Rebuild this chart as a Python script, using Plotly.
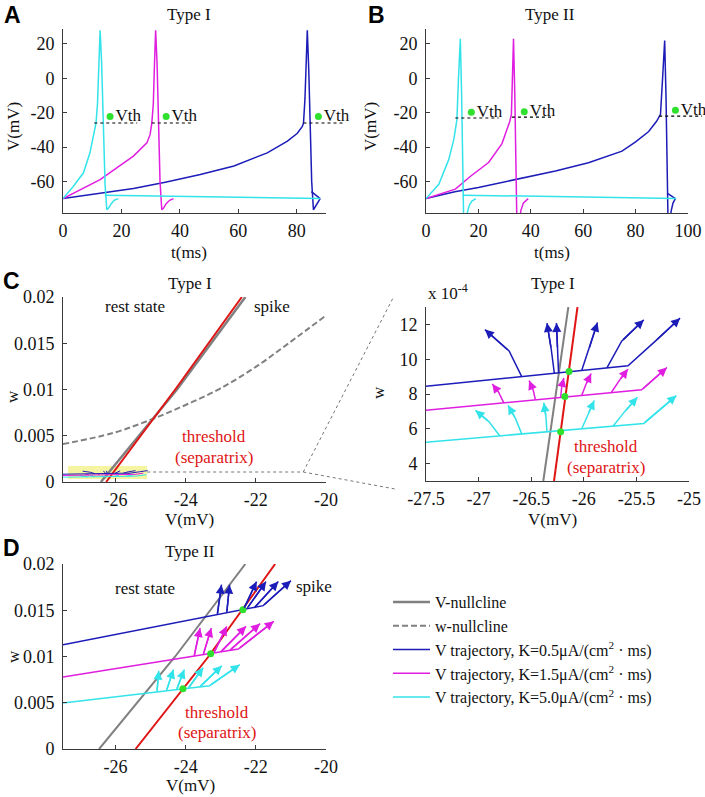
import plotly.graph_objects as go

SERIF = "Liberation Serif"
SANS = "Liberation Sans"

BLUE = "#1c1cb8"
MAGENTA = "#e01ee0"
CYAN = "#33e3ea"
GRAY = "#808080"
RED = "#e01515"
GREEN = "#2fe02f"
AXC = "#3a3a3a"

# ---------------- Panel A (Type I): V(t) ----------------
A_BLUE_T = [0, 10, 24.1, 35, 47, 58.5, 69.9, 76.8, 80.2, 81.9, 82.3, 82.8, 83.2, 83.6, 84.1, 84.6, 85.1, 85.7, 86.3, 87.2, 88, None, 85.0, 88]
A_BLUE_V = [-70, -67.5, -64.2, -60.5, -56, -51, -43.4, -36.6, -32, -28, -26, -12, 10, 28, 5, -30, -60, -76.5, -75, -72, -70, None, -66, -70]
A_MAG_T = [0, 6, 12.7, 18.5, 24.1, 28.7, 29.8, 30.4, 30.9, 31.3, 31.7, 32.2, 32.7, 33.2, 33.8, 34.4, 35.3, 36.5, 37.8]
A_MAG_V = [-70, -65, -59, -52, -45.3, -37.6, -32.8, -26, -15, 8, 28, 8, -30, -60, -76.5, -75.5, -73, -71, -70]
A_CYAN_T = [0, 3.5, 7.0, 9.2, 10.7, 11.3, 11.8, 12.3, 12.7, 13.2, 13.8, 14.4, 15.0, 15.6, 16.5, 17.5, 18.9, None, 14.3, 88]
A_CYAN_V = [-70, -63, -55, -43.5, -31, -26, -15, 10, 28, 10, -25, -62, -76.5, -75.5, -73, -71, -70, None, -68, -70]
A_VTH_X0 = [10.7, 30.4, 82.3]
A_VTH_X1 = [25.4, 44.6, 96.6]
A_VTH_LEVEL = [-26, -26, -26]
A_DOT_T = [16.1, 35.3, 87.4]
A_DOT_V = [-22.3, -22.3, -22.3]

# ---------------- Panel B (Type II): V(t) ----------------
B_BLUE_T = [0, 11, 20, 40, 49.4, 62, 74.8, 80, 85, 88, 89.5, 90.3, 91.1, 91.6, 92.0, 92.4, None, 92.9, 93.6, 94.3, 95.2, None, 92.2, 95.2]
B_BLUE_V = [-70, -66, -63.5, -57, -54, -49.2, -42.4, -37, -31, -25, -21, 0, 22, -10, -60, -85, None, -85, -77, -72.5, -70, None, -67, -70]
B_MAG_T = [0, 11.2, 17, 23.9, 29, 31, 32, 32.6, 33.0, 33.4, 33.9, 34.3, 34.7, None, 35.6, 36.2, 37.2, 39.0]
B_MAG_V = [-70, -64.5, -57, -49, -38, -30, -25, -21, 0, 23, -10, -60, -85, None, -85, -77, -72.5, -70]
B_CYAN_T = [0, 4.9, 8.7, 10.6, 11.3, 11.8, 12.4, 13.1, 13.6, 14.0, 14.4, None, 15.2, 15.8, 16.5, 17.5, 19, None, 14.0, 95.5]
B_CYAN_V = [-70, -61.7, -47.2, -35.7, -29, -24, 0, 23, -10, -60, -85, None, -84, -78, -74, -71.5, -70, None, -68, -70]
B_VTH_X0 = [11.2, 32.8, 89.0]
B_VTH_X1 = [27.7, 48.1, 105.3]
B_VTH_LEVEL = [-23.1, -22.6, -22.0]
B_DOT_T = [17.3, 37.5, 95.2]
B_DOT_V = [-19.8, -19.5, -18.6]

# ---------------- Panel C right (Type I, w in 1e-4) ----------------
CR_VNULL_V = [-26.385, -26.147]
CR_VNULL_W = [3, 13]
CR_THR_V = [-26.283, -26.06]
CR_THR_W = [3, 13]
CR_BLUE_BASE_V = [-27.5, -25.58, -25.32, -25.085]
CR_BLUE_BASE_W = [8.44, 9.62, 11.04, 12.36]
CR_BLUE_BR_V = [[-26.59, -26.71, -26.94], [-26.28, -26.31, -26.35], [-26.24, -26.25, -26.26], [-26.02, -25.95, -25.87], [-25.78, -25.64, -25.43]]
CR_BLUE_BR_W = [[9.00, 10.47, 11.70], [9.19, 10.6, 12.08], [9.22, 10.6, 12.08], [9.35, 10.6, 12.11], [9.50, 11.04, 12.26]]
CR_MAG_BASE_V = [-27.5, -25.45, -25.21]
CR_MAG_BASE_W = [7.06, 8.24, 9.52]
CR_MAG_BR_V = [[-26.76, -26.81, -26.87], [-26.46, -26.48, -26.52], [-26.22, -26.21, -26.19], [-26.02, -25.98, -25.93], [-25.74, -25.66, -25.58]]
CR_MAG_BR_W = [[7.49, 8.10, 8.58], [7.66, 8.2, 8.77], [7.80, 8.4, 8.92], [7.91, 8.55, 9.18], [8.07, 8.8, 9.43]]
CR_CYAN_BASE_V = [-27.5, -25.43, -25.12]
CR_CYAN_BASE_W = [5.23, 6.31, 7.91]
CR_CYAN_BR_V = [[-26.80, -26.90, -27.03], [-26.59, -26.65, -26.72], [-26.35, -26.36, -26.38], [-26.02, -25.96, -25.90], [-25.72, -25.61, -25.49]]
CR_CYAN_BR_W = [[5.60, 6.4, 7.06], [5.71, 6.6, 7.35], [5.83, 6.7, 7.50], [6.00, 6.85, 7.63], [6.16, 7.0, 7.82]]
CR_DOT_V = [-26.14, -26.18, -26.22]
CR_DOT_W = [9.30, 7.86, 5.83]
CR_SCALE = 1e-4

# ---------------- Panel C left (Type I) ----------------
CL_VNULL_V = [-26.42, -24.25, -22.3]
CL_VNULL_W = [0, 0.01, 0.02]
CL_THR_V = [-26.27, -24.3, -22.4]
CL_THR_W = [0, 0.01, 0.02]
CL_WNULL_V = [-27.5, -26.07, -25.02, -24.02, -23.02, -21.98, -21.03, -20.0]
CL_WNULL_W = [0.0041, 0.0053, 0.0067, 0.0083, 0.0101, 0.0125, 0.0151, 0.0180]
CL_BOX_V = [-27.36, -25.10]
CL_BOX_W = [0.00032, 0.00173]
CL_LINK_V = [-25.10, -20.65]
CL_LINK_W = 0.00108

# ---------------- Panel D (Type II) ----------------
D_VNULL_V = [-26.47, -24.3, -22.3]
D_VNULL_W = [0, 0.01, 0.02]
D_THR_V = [-25.43, -23.35, -21.45]
D_THR_W = [0, 0.01, 0.02]
D_BLUE_BASE_V = [-27.5, -21.79, -21.0]
D_BLUE_BASE_W = [0.01128, 0.0155, 0.0182]
D_BLUE_BR_V = [[-23.10, -22.98], [-22.83, -22.75], [-22.35, -21.98], [-22.25, -21.71], [-22.05, -21.36]]
D_BLUE_BR_W = [[0.01452, 0.01776], [0.01473, 0.01776], [0.0151, 0.0181], [0.0152, 0.0181], [0.01525, 0.0181]]
D_MAG_BASE_V = [-27.5, -22.5, -21.49]
D_MAG_BASE_W = [0.00778, 0.0108, 0.0138]
D_MAG_BR_V = [[-23.76, -23.59], [-23.50, -23.27], [-23.2, -22.83], [-23.0, -22.28], [-22.75, -21.88]]
D_MAG_BR_W = [[0.01004, 0.01308], [0.0102, 0.01308], [0.01038, 0.01326], [0.0105, 0.01326], [0.01065, 0.01355]]
D_CYAN_BASE_V = [-27.5, -23.32, -22.46]
D_CYAN_BASE_W = [0.00497, 0.00684, 0.00911]
D_CYAN_BR_V = [[-24.82, -24.77], [-24.55, -24.35], [-24.26, -24.04], [-23.93, -23.5], [-23.6, -22.97]]
D_CYAN_BR_W = [[0.00617, 0.00846], [0.00629, 0.0086], [0.00642, 0.0086], [0.00657, 0.0088], [0.00672, 0.009]]
D_DOT_V = [-24.08, -23.29, -22.37]
D_DOT_W = [0.0065, 0.0103, 0.01506]

LEGEND_NAMES = ["V-nullcline", "w-nullcline",
                "V trajectory, K=0.5μA/(cm<sup>2</sup> · ms)",
                "V trajectory, K=1.5μA/(cm<sup>2</sup> · ms)",
                "V trajectory, K=5.0μA/(cm<sup>2</sup> · ms)"]

# ---------------- layout geometry (pixels) ----------------
FW, FH = 705, 797
BOX_A = (63, 326, 29, 213)
BOX_B = (426, 688, 29, 213)
BOX_CL = (63, 326, 297, 482)
BOX_CR = (426, 689, 307, 481)
BOX_D = (63, 326, 564, 749)
RA_X, RA_Y = [0, 90], [-78.4, 28.7]
RB_X, RB_Y = [0, 100], [-78.4, 28.7]
RCL_X, RCL_Y = [-27.5, -20], [0, 0.02]
RCR_X, RCR_Y = [-27.5, -25], [3, 13]
RD_X, RD_Y = [-27.5, -20], [0, 0.02]


def dx(box):
    return [box[0] / FW, box[1] / FW]


def dy(box):
    return [1 - box[3] / FH, 1 - box[2] / FH]


def to_paper(box, xr, yr, x, y):
    px = box[0] + (x - xr[0]) / (xr[1] - xr[0]) * (box[1] - box[0])
    py = box[3] - (y - yr[0]) / (yr[1] - yr[0]) * (box[3] - box[2])
    return px / FW, 1 - py / FH


def ext_range(box, xr, px_end):
    return [xr[0], xr[0] + (xr[1] - xr[0]) * (px_end - box[0]) / (box[1] - box[0])]


fig = go.Figure()


def line(x, y, ax, color, width=1.5, dash=None, name=None, legend=False, rank=None, shape="linear"):
    fig.add_trace(go.Scatter(x=x, y=y, mode="lines", xaxis="x" + ax, yaxis="y" + ax,
                             line=dict(color=color, width=width, dash=dash, shape=shape),
                             name=name, showlegend=legend, legendrank=rank if rank else 1000,
                             hoverinfo="skip", connectgaps=False))


def flatten(list_v, list_w, scale=1.0):
    xs, ys = [], []
    for bv, bw in zip(list_v, list_w):
        xs += list(bv) + [None]
        ys += [w * scale for w in bw] + [None]
    return xs, ys


annotations = []


def arrows(list_v, list_w, ax, color, scale=1.0):
    for bv, bw in zip(list_v, list_w):
        annotations.append(dict(x=bv[-1], y=bw[-1] * scale, ax=bv[-2], ay=bw[-2] * scale,
                                xref="x" + ax, yref="y" + ax, axref="x" + ax, ayref="y" + ax,
                                showarrow=True, arrowhead=2, arrowsize=1.2, arrowwidth=1.5,
                                arrowcolor=color, text=""))


# ---- A ----
line(A_BLUE_T, A_BLUE_V, "", BLUE)
line(A_MAG_T, A_MAG_V, "", MAGENTA)
line(A_CYAN_T, A_CYAN_V, "", CYAN)
# ---- B ----
line(B_BLUE_T, B_BLUE_V, "2", BLUE)
line(B_MAG_T, B_MAG_V, "2", MAGENTA)
line(B_CYAN_T, B_CYAN_V, "2", CYAN)


def vth(x0s, x1s, levels, dts, dvs, ax):
    xs, ys = [], []
    for a, b, l in zip(x0s, x1s, levels):
        xs += [a, b, None]
        ys += [l, l, None]
    line(xs, ys, ax, "#000000", width=1.2, dash="dot")
    fig.add_trace(go.Scatter(x=dts, y=dvs, mode="markers+text", xaxis="x" + ax, yaxis="y" + ax,
                             marker=dict(color=GREEN, size=7), text=["Vth"] * len(dts),
                             textposition="middle right", cliponaxis=False,
                             textfont=dict(family=SERIF, size=17, color="#111"),
                             showlegend=False, hoverinfo="skip"))


vth(A_VTH_X0, A_VTH_X1, A_VTH_LEVEL, A_DOT_T, A_DOT_V, "6")
vth(B_VTH_X0, B_VTH_X1, B_VTH_LEVEL, B_DOT_T, B_DOT_V, "7")

# ---- C left ----
line(CL_WNULL_V, CL_WNULL_W, "3", GRAY, width=2, dash="6px,3px", name=LEGEND_NAMES[1], legend=True, rank=2, shape="spline")
line(CL_VNULL_V, CL_VNULL_W, "3", GRAY, width=2.5, name=LEGEND_NAMES[0], legend=True, rank=1)
line(CL_THR_V, CL_THR_W, "3", RED, width=2)
for bv, bw, brv, brw, col in [(CR_CYAN_BASE_V, CR_CYAN_BASE_W, CR_CYAN_BR_V, CR_CYAN_BR_W, CYAN),
                              (CR_MAG_BASE_V, CR_MAG_BASE_W, CR_MAG_BR_V, CR_MAG_BR_W, MAGENTA),
                              (CR_BLUE_BASE_V, CR_BLUE_BASE_W, CR_BLUE_BR_V, CR_BLUE_BR_W, BLUE)]:
    line(bv, [w * CR_SCALE for w in bw], "3", col, width=1)
    xs, ys = flatten(brv, brw, CR_SCALE)
    line(xs, ys, "3", col, width=1)

# ---- C right ----
line(CR_VNULL_V, CR_VNULL_W, "4", GRAY, width=2)
for bv, bw, brv, brw, col in [(CR_BLUE_BASE_V, CR_BLUE_BASE_W, CR_BLUE_BR_V, CR_BLUE_BR_W, BLUE),
                              (CR_MAG_BASE_V, CR_MAG_BASE_W, CR_MAG_BR_V, CR_MAG_BR_W, MAGENTA),
                              (CR_CYAN_BASE_V, CR_CYAN_BASE_W, CR_CYAN_BR_V, CR_CYAN_BR_W, CYAN)]:
    line(bv, bw, "4", col, width=1.5)
    xs, ys = flatten(brv, brw)
    line(xs, ys, "4", col, width=1.5)
    arrows(brv, brw, "4", col)
    arrows([bv[-2:]], [bw[-2:]], "4", col)
line(CR_THR_V, CR_THR_W, "4", RED, width=2)
fig.add_trace(go.Scatter(x=CR_DOT_V, y=CR_DOT_W, mode="markers", xaxis="x4", yaxis="y4",
                         marker=dict(color=GREEN, size=7), showlegend=False, hoverinfo="skip"))

# ---- D ----
line(D_VNULL_V, D_VNULL_W, "5", GRAY, width=2)
line(D_THR_V, D_THR_W, "5", RED, width=2)
for bv, bw, brv, brw, col, nm, rk in [(D_BLUE_BASE_V, D_BLUE_BASE_W, D_BLUE_BR_V, D_BLUE_BR_W, BLUE, LEGEND_NAMES[2], 3),
                                      (D_MAG_BASE_V, D_MAG_BASE_W, D_MAG_BR_V, D_MAG_BR_W, MAGENTA, LEGEND_NAMES[3], 4),
                                      (D_CYAN_BASE_V, D_CYAN_BASE_W, D_CYAN_BR_V, D_CYAN_BR_W, CYAN, LEGEND_NAMES[4], 5)]:
    line(bv, bw, "5", col, width=1.5, name=nm, legend=True, rank=rk)
    xs, ys = flatten(brv, brw)
    line(xs, ys, "5", col, width=1.5)
    arrows(brv, brw, "5", col)
    arrows([bv[-2:]], [bw[-2:]], "5", col)
fig.add_trace(go.Scatter(x=D_DOT_V, y=D_DOT_W, mode="markers", xaxis="x5", yaxis="y5",
                         marker=dict(color=GREEN, size=7), showlegend=False, hoverinfo="skip"))


# ---------------- axes ----------------
def axis(box, rng, horiz, tickvals=None, ticktext=None):
    d = dict(domain=dx(box) if horiz else dy(box), range=rng, showline=True, linecolor=AXC,
             linewidth=1, ticks="inside", ticklen=4, tickcolor=AXC, showgrid=False,
             zeroline=False, fixedrange=True, ticklabelstandoff=1 if horiz else 4, automargin=False,
             tickfont=dict(family=SERIF, size=18, color="#111"))
    if tickvals is not None:
        d["tickmode"] = "array"
        d["tickvals"] = tickvals
        d["ticktext"] = ticktext if ticktext else [str(v) for v in tickvals]
    return d


W_TICKS = [0, 0.005, 0.01, 0.015, 0.02]
W_TEXT = ["0", "0.005", "0.01", "0.015", "0.02"]

A_EXT = 360
B_EXT = 705
layout_axes = dict(
    xaxis=dict(axis(BOX_A, RA_X, True, [0, 20, 40, 60, 80]), anchor="y"),
    yaxis=dict(axis(BOX_A, RA_Y, False, [-60, -40, -20, 0, 20]), anchor="x"),
    xaxis2=dict(axis(BOX_B, RB_X, True, [0, 20, 40, 60, 80, 100]), anchor="y2"),
    yaxis2=dict(axis(BOX_B, RB_Y, False, [-60, -40, -20, 0, 20]), anchor="x2"),
    xaxis3=dict(axis(BOX_CL, RCL_X, True, [-26, -24, -22, -20]), anchor="y3"),
    yaxis3=dict(axis(BOX_CL, RCL_Y, False, W_TICKS, W_TEXT), anchor="x3"),
    xaxis4=dict(axis(BOX_CR, RCR_X, True, [-27.5, -27, -26.5, -26, -25.5, -25]), anchor="y4"),
    yaxis4=dict(axis(BOX_CR, RCR_Y, False, [4, 6, 8, 10, 12]), anchor="x4"),
    xaxis5=dict(axis(BOX_D, RD_X, True, [-26, -24, -22, -20]), anchor="y5"),
    yaxis5=dict(axis(BOX_D, RD_Y, False, W_TICKS, W_TEXT), anchor="x5"),
    xaxis6=dict(domain=[BOX_A[0] / FW, A_EXT / FW], range=ext_range(BOX_A, RA_X, A_EXT), visible=False,
                anchor="y6", fixedrange=True, automargin=False),
    yaxis6=dict(domain=dy(BOX_A), range=RA_Y, visible=False, anchor="x6", fixedrange=True, automargin=False),
    xaxis7=dict(domain=[BOX_B[0] / FW, B_EXT / FW], range=ext_range(BOX_B, RB_X, B_EXT), visible=False,
                anchor="y7", fixedrange=True, automargin=False),
    yaxis7=dict(domain=dy(BOX_B), range=RB_Y, visible=False, anchor="x7", fixedrange=True, automargin=False),
)


# ---------------- text ----------------
def ptxt(text, px, py, size=17, color="#111", family=SERIF, angle=0, xanchor="center", yanchor="middle"):
    annotations.append(dict(text=text, x=px / FW, y=1 - py / FH, xref="paper", yref="paper",
                            showarrow=False, textangle=angle, xanchor=xanchor, yanchor=yanchor,
                            font=dict(family=family, size=size, color=color)))


def dtxt(text, x, y, ax, size=17, color="#111"):
    annotations.append(dict(text=text, x=x, y=y, xref="x" + ax, yref="y" + ax, showarrow=False,
                            font=dict(family=SERIF, size=size, color=color)))


for lab, px, py in [("A", 12, 15), ("B", 376, 15), ("C", 11, 281), ("D", 11, 548)]:
    ptxt("<b>" + lab + "</b>", px, py, size=23, family=SANS, color="#000")
ptxt("Type I", 189, 15)
ptxt("Type II", 550, 15)
ptxt("Type I", 190, 283)
ptxt("Type I", 553, 283)
ptxt("Type II", 190, 551)
ptxt("t(ms)", 189, 252)
ptxt("t(ms)", 552, 252)
ptxt("V(mV)", 13, 127, angle=-90)
ptxt("V(mV)", 370, 127, angle=-90)
ptxt("V(mV)", 189, 519)
ptxt("V(mV)", 552, 519)
ptxt("V(mV)", 190, 785)
ptxt("w", 13, 397, angle=-90)
ptxt("w", 378, 393, angle=-90)
ptxt("w", 13, 657, angle=-90)
annotations.append(dict(text="x 10<sup>-4</sup>", x=0, y=1, xref="x4 domain", yref="y4 domain",
                        xanchor="left", yanchor="bottom", showarrow=False, yshift=2,
                        font=dict(family=SERIF, size=17, color="#111")))

dtxt("rest state", -25.44, 0.019, "3")
dtxt("spike", -21.55, 0.019, "3")
dtxt("threshold", -23.2, 0.0049, "3", color=RED)
dtxt("(separatrix)", -23.2, 0.0027, "3", color=RED)
dtxt("rest state", -26.80, 13.13, "4")
dtxt("spike", -25.54, 13.13, "4")
dtxt("threshold", -25.79, 4.98, "4", color=RED)
dtxt("(separatrix)", -25.79, 3.79, "4", color=RED)
dtxt("rest state", -25.17, 0.01733, "5")
dtxt("spike", -20.35, 0.0176, "5")
dtxt("threshold", -23.12, 0.00396, "5", color=RED)
dtxt("(separatrix)", -23.12, 0.0018, "5", color=RED)

# ---------------- shapes ----------------
shapes = [dict(type="rect", xref="x3", yref="y3", x0=CL_BOX_V[0], x1=CL_BOX_V[1], y0=CL_BOX_W[0], y1=CL_BOX_W[1],
               fillcolor="rgba(240,240,110,0.65)", line=dict(width=0), layer="below")]
p0 = to_paper(BOX_CL, RCL_X, RCL_Y, CL_LINK_V[0], CL_LINK_W)
p1 = to_paper(BOX_CL, RCL_X, RCL_Y, CL_LINK_V[1], CL_LINK_W)
LINK_ENDS_PX = [(393, 298), (395, 489)]
dot_line = dict(color="#777777", width=1, dash="dot")
shapes.append(dict(type="line", xref="paper", yref="paper", x0=p0[0], y0=p0[1], x1=p1[0], y1=p1[1], line=dot_line))
for ex, ey in LINK_ENDS_PX:
    shapes.append(dict(type="line", xref="paper", yref="paper", x0=p1[0], y0=p1[1], x1=ex / FW, y1=1 - ey / FH, line=dot_line))

fig.update_layout(
    template="none",
    width=FW, height=FH, margin=dict(l=0, r=0, t=0, b=0, autoexpand=False),
    paper_bgcolor="white", plot_bgcolor="rgba(0,0,0,0)",
    showlegend=True,
    legend=dict(x=388 / FW, y=1 - 585 / FH, xanchor="left", yanchor="top",
                font=dict(family=SERIF, size=16, color="#111"), bgcolor="rgba(0,0,0,0)",
                itemwidth=37, tracegroupgap=0),
    annotations=annotations, shapes=shapes,
    **layout_axes,
)

fig.write_html("out.html", config={"displayModeBar": False},
               post_script="document.body.style.margin='0px';document.body.style.overflow='hidden';")
